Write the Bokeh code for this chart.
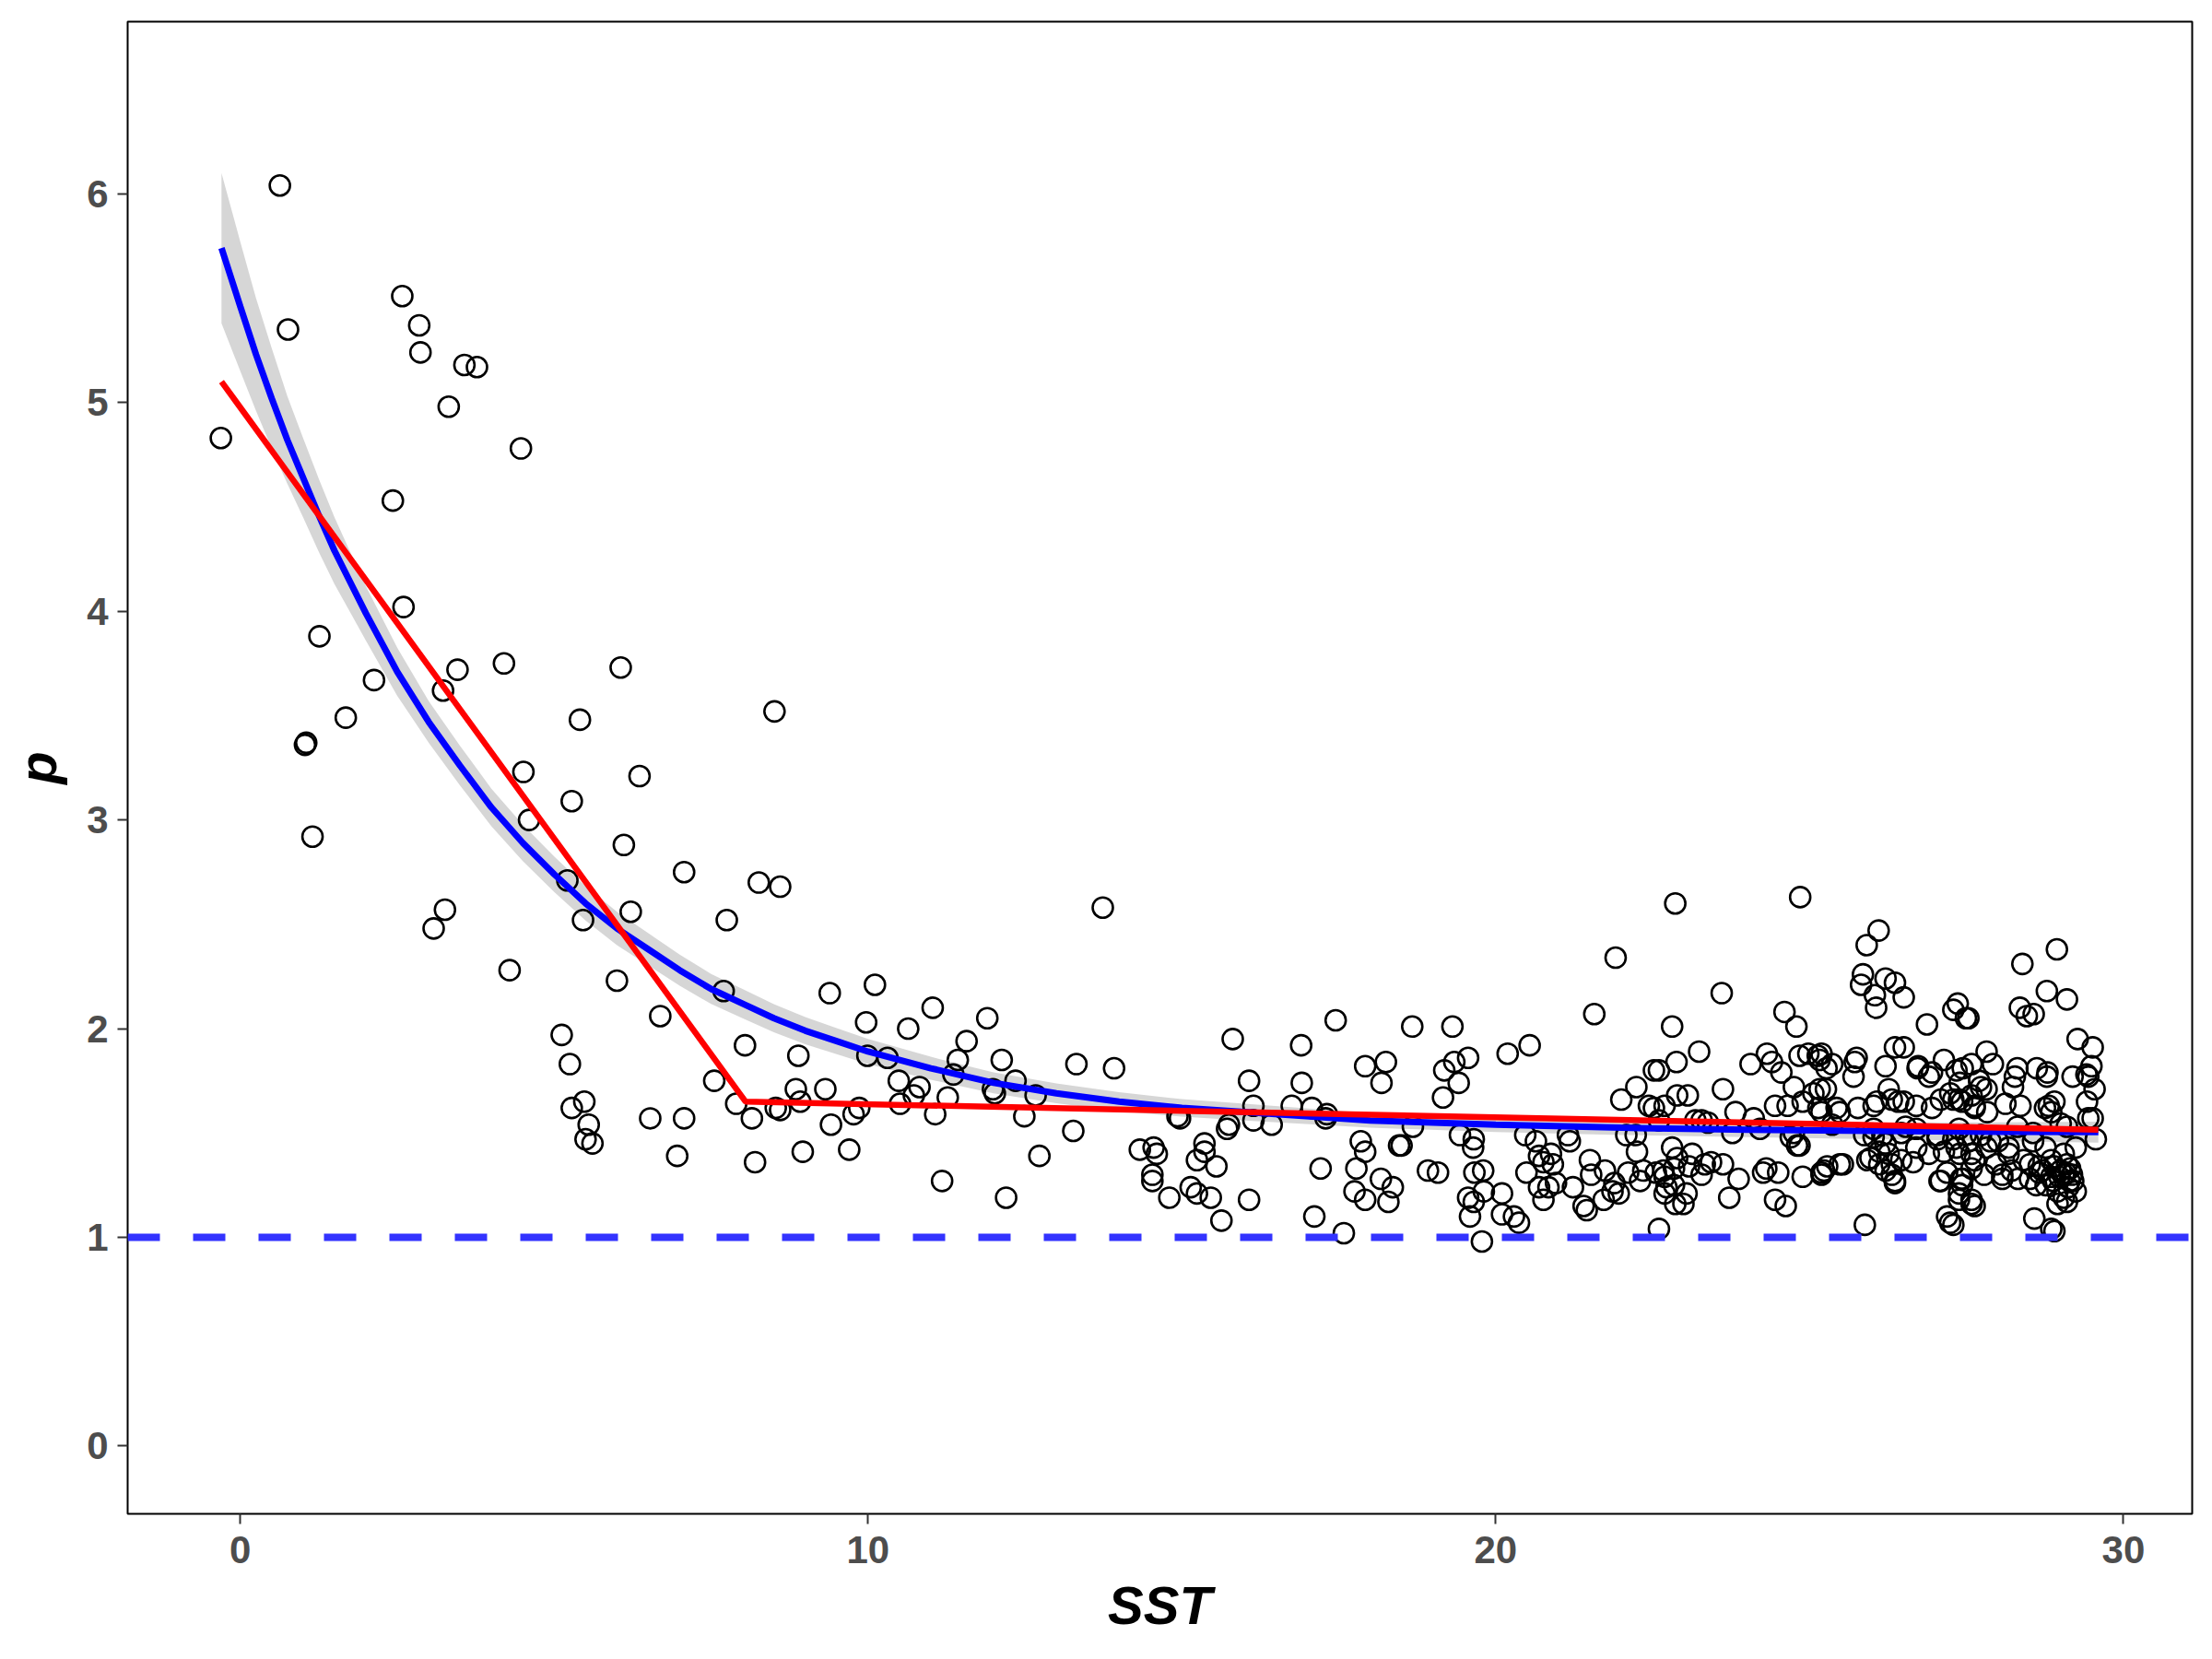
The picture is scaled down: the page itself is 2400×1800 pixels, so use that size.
from bokeh.plotting import figure
from bokeh.models import Range1d, FixedTicker, Span
from bokeh.embed import file_html
from bokeh.resources import INLINE

# ---------------- data ----------------
sst = [
    -0.31, 0.63, 0.76, 1.03, 1.05, 1.15, 1.26, 1.68, 2.13, 2.43, 2.58, 2.60, 2.85, 2.87, 3.08, 3.23,
    3.26, 3.32, 3.46, 3.57, 3.77, 4.20, 4.29, 4.47, 4.51, 4.60, 5.12, 5.21, 5.28, 5.25, 5.28, 5.41,
    5.46, 5.48, 5.55, 5.50, 5.61, 6.00, 6.06, 6.11, 6.22, 6.36, 6.53, 6.69, 6.96, 7.07, 7.07, 7.55,
    7.75, 7.70, 7.90, 8.04, 8.15, 8.20, 8.26, 8.51, 8.53, 8.60, 8.60, 8.85, 8.89, 8.92, 8.96, 9.32,
    9.39, 9.41, 9.70, 9.77, 9.86, 9.97, 9.99, 10.11, 10.31, 10.49, 10.51, 10.64, 10.73, 10.82, 11.03, 11.07,
    11.18, 11.27, 11.36, 11.43, 11.57, 11.90, 11.99, 12.02, 12.13, 12.20, 12.35, 12.49, 12.67, 12.73, 13.27, 13.32,
    13.74, 13.92,
    14.33, 14.55, 14.60, 14.53, 14.53, 14.80, 14.93, 14.97, 15.14, 15.24, 15.24, 15.36, 15.36, 15.46, 15.55, 15.63,
    15.72, 15.75, 15.81, 16.07, 16.07, 16.14, 16.14, 16.43, 16.75, 16.90, 16.91, 17.07, 17.11, 17.21, 17.29, 17.31,
    17.45, 17.58, 17.75, 17.78, 17.85, 17.92, 17.92, 17.92, 18.17, 18.18, 18.25, 18.29, 18.36, 18.46, 18.50, 18.67,
    18.68, 18.92,
    19.08, 19.16, 19.18, 19.31, 19.34, 19.41, 19.43, 19.56, 19.56, 19.59, 19.64, 19.65, 19.65, 19.66, 19.78, 19.80,
    19.81, 20.10, 20.10, 20.19, 20.29, 20.37, 20.47, 20.49, 20.54, 20.64, 20.69, 20.69, 20.76, 20.76, 20.84, 20.88,
    20.91, 20.96, 21.15, 21.18, 21.23, 21.40, 21.45, 21.50, 21.52, 21.57, 21.72, 21.74, 21.86, 21.89, 21.91, 21.96,
    22.00, 22.08, 22.11, 22.23, 22.24, 22.25, 22.30, 22.35, 22.44, 22.52, 22.52, 22.55, 22.60, 22.60, 22.69, 22.72,
    22.81, 22.81, 22.84, 22.86, 22.86, 22.88, 22.89,
    24.85, 26.10, 25.91, 23.60, 25.85, 26.21, 25.82, 26.04, 26.06, 24.60, 24.79, 23.24, 24.06, 24.32, 24.40, 24.55,
    24.84, 24.98, 25.13, 25.27, 25.72, 25.70, 26.21, 26.36, 23.06, 23.62, 24.75, 25.06, 25.26, 26.26, 24.45, 24.65,
    24.89, 25.14, 25.48, 25.77, 26.02, 23.82, 24.11, 23.28, 22.69, 23.77, 24.21, 24.70, 24.84, 25.36, 25.87, 26.02,
    26.21, 23.13, 22.89, 23.43, 23.62, 22.67, 23.28, 23.87, 24.31, 24.50, 24.89, 25.23, 25.53, 25.92, 26.11, 26.31,
    26.36, 23.04, 22.99, 23.72, 24.45, 24.62, 25.88,
    26.36, 26.50, 26.87, 27.36, 27.29, 27.53, 28.39, 28.94, 28.78, 29.10, 28.35, 28.57, 26.50, 29.27, 29.51, 26.72,
    27.14, 26.90, 27.58, 27.82, 27.92, 27.70, 28.31, 28.62, 28.79, 28.24, 29.19, 29.41, 29.54, 29.49, 26.31, 26.50,
    26.70, 27.09, 27.43, 27.24, 27.58, 27.82, 28.12, 28.36, 28.75, 28.90, 29.44, 26.16, 26.53, 27.04, 27.38, 27.73,
    28.00, 28.31, 28.56, 29.10, 29.56, 26.26, 26.46, 26.70, 26.90, 27.14, 27.34, 27.58, 27.82, 28.17, 28.41, 28.65,
    28.85, 29.05, 29.24, 26.21, 26.65, 27.07, 27.19, 27.41, 27.58, 27.78, 28.07, 28.22, 28.51, 28.71, 28.85, 29.00,
    29.14, 29.24, 29.05, 28.95, 29.10, 27.38, 27.58, 27.24, 27.29, 28.58, 28.90,
    28.46, 27.49, 27.44, 28.27, 28.78, 29.44, 27.73, 27.39, 27.29, 27.63, 27.83, 28.81, 28.85, 29.42, 29.51, 29.00,
    27.49, 27.88, 28.17, 28.56, 28.76, 27.39, 27.63, 27.97, 28.51, 28.66, 28.90, 29.10, 29.05, 29.20, 27.44, 28.07,
    28.32, 28.61, 28.76, 28.95, 27.58, 28.85, 29.08, 29.15, 28.98, 29.12, 28.88, 29.18,
    23.18, 23.38, 23.08, 23.33, 24.26, 25.19, 22.69, 22.84, 22.60, 25.16, 24.80, 24.75,
    25.19, 25.36, 25.75, 26.73, 26.95, 27.34, 25.16, 25.19, 25.43, 26.07, 26.41, 26.95, 27.38, 27.63,
    26.02, 26.46, 26.70, 27.04, 27.29, 27.53, 25.97, 26.11, 26.31, 25.28, 25.48, 25.19, 26.36, 27.09,
    27.43, 27.38, 27.63, 27.19,
]
p_vals = [
    4.83, 6.04, 5.35, 3.36, 3.37, 2.92, 3.88, 3.49, 3.67, 4.53, 5.51, 4.02, 5.37, 5.24, 2.48, 3.62,
    2.57, 4.98, 3.72, 5.18, 5.17, 3.75, 2.28, 4.78, 3.23, 3.00, 1.97, 2.71, 3.09, 1.83, 1.62, 3.48,
    2.52, 1.65, 1.54, 1.47, 1.45, 2.23, 3.73, 2.88, 2.56, 3.21, 1.57, 2.06, 1.39, 2.75, 1.57, 1.75,
    2.52, 2.18, 1.64, 1.92, 1.57, 1.36, 2.70, 3.52, 1.62, 2.68, 1.61, 1.71, 1.87, 1.65, 1.41, 1.71,
    2.17, 1.54, 1.42, 1.59, 1.62, 2.03, 1.87, 2.21, 1.86, 1.75, 1.64, 2.00, 1.68, 1.72, 2.10, 1.59,
    1.27, 1.67, 1.78, 1.85, 1.94, 2.05, 1.71, 1.69, 1.85, 1.19, 1.75, 1.58, 1.68, 1.39, 1.51, 1.83,
    2.58, 1.81,
    1.42, 1.43, 1.40, 1.30, 1.27, 1.19, 1.58, 1.57, 1.24, 1.21, 1.37, 1.45, 1.41, 1.19, 1.34, 1.08,
    1.52, 1.54, 1.95, 1.75, 1.18, 1.63, 1.56, 1.54, 1.63, 1.92, 1.74, 1.62, 1.10, 1.33, 1.57, 1.59,
    2.04, 1.02, 1.22, 1.33, 1.46, 1.41, 1.82, 1.18, 1.28, 1.74, 1.84, 1.17, 1.24, 1.44, 1.44, 2.01,
    1.53, 1.32,
    1.31, 1.67, 1.80, 2.01, 1.84, 1.74, 1.49, 1.86, 1.19, 1.10, 1.43, 1.47, 1.17, 1.31, 0.98, 1.32,
    1.22, 1.21, 1.11, 1.88, 1.10, 1.07, 1.49, 1.31, 1.92, 1.46, 1.39, 1.24, 1.36, 1.18, 1.24, 1.40,
    1.35, 1.26, 1.49, 1.46, 1.24, 1.15, 1.13, 1.37, 1.30, 2.07, 1.18, 1.32, 1.22, 1.26, 2.34, 1.21,
    1.66, 1.49, 1.31, 1.49, 1.72, 1.41, 1.27, 1.32, 1.63, 1.80, 1.62, 1.31, 1.56, 1.04, 1.29, 1.24,
    2.01, 1.43, 1.33, 1.16, 2.60, 1.84, 1.68,
    2.63, 2.47, 2.40, 2.17, 2.26, 2.24, 2.21, 2.16, 2.10, 2.08, 2.01, 1.89, 1.83, 1.88, 1.84, 1.79,
    1.87, 1.88, 1.87, 1.81, 1.84, 1.77, 1.82, 1.91, 1.68, 1.71, 1.72, 1.69, 1.71, 1.71, 1.63, 1.63,
    1.65, 1.62, 1.60, 1.62, 1.63, 1.60, 1.57, 1.56, 1.63, 1.50, 1.52, 1.48, 1.44, 1.54, 1.49, 1.52,
    1.45, 1.40, 1.38, 1.36, 1.35, 1.32, 1.30, 1.28, 1.33, 1.31, 1.29, 1.32, 1.35, 1.37, 1.35, 1.30,
    1.26, 1.21, 1.16, 1.19, 1.18, 1.15, 1.06,
    2.22, 2.15, 2.02, 2.12, 2.09, 2.05, 2.31, 2.38, 2.18, 2.14, 2.10, 2.07, 1.91, 1.95, 1.91, 1.81,
    1.85, 1.77, 1.83, 1.89, 1.83, 1.75, 1.81, 1.81, 1.79, 1.72, 1.77, 1.78, 1.71, 1.82, 1.66, 1.65,
    1.63, 1.66, 1.65, 1.69, 1.68, 1.71, 1.64, 1.63, 1.62, 1.65, 1.57, 1.49, 1.53, 1.49, 1.52, 1.49,
    1.46, 1.53, 1.50, 1.53, 1.47, 1.40, 1.37, 1.43, 1.40, 1.41, 1.43, 1.40, 1.43, 1.40, 1.37, 1.34,
    1.37, 1.40, 1.43, 1.32, 1.36, 1.27, 1.31, 1.28, 1.33, 1.30, 1.30, 1.32, 1.28, 1.32, 1.29, 1.32,
    1.27, 1.22, 1.19, 1.16, 1.17, 1.21, 1.16, 1.07, 1.06, 1.09, 1.03,
    2.06, 2.05, 1.81, 1.77, 1.77, 1.77, 1.72, 1.74, 1.66, 1.63, 1.60, 1.63, 1.60, 1.65, 1.57, 1.545,
    1.49, 1.46, 1.43, 1.46, 1.43, 1.40, 1.37, 1.35, 1.35, 1.31, 1.34, 1.35, 1.30, 1.27, 1.28, 1.28,
    1.28, 1.25, 1.25, 1.22, 1.18, 1.04, 1.31, 1.33, 1.29, 1.24, 1.27, 1.30,
    1.56, 1.55, 1.34, 1.35, 1.31, 1.31, 1.21, 1.25, 1.80, 1.85, 1.44, 1.50,
    1.88, 1.83, 1.86, 1.82, 1.79, 1.80, 1.71, 1.60, 1.62, 1.65, 1.65, 1.62, 1.66, 1.62,
    1.48, 1.50, 1.52, 1.47, 1.47, 1.46, 1.38, 1.41, 1.35, 1.34, 1.35, 1.30, 1.27, 1.27,
    1.25, 1.18, 1.15, 1.10,
]

# smooth fit (blue) and the half-width of its grey confidence band, read at these SST values
fit_x = [-0.3, 0.0, 0.25, 0.5, 0.75, 1.0, 1.25, 1.5, 1.75, 2.0, 2.5, 3.0, 3.5, 4.0, 4.5, 5.0,
         5.5, 6.0, 6.5, 7.0, 7.5, 8.0, 8.5, 9.0, 9.5, 10.0, 11.0, 12.0, 13.0, 14.0, 15.0, 16.0,
         18.0, 20.0, 22.0, 24.0, 26.0, 28.0, 29.6]
fit_y = [5.74, 5.46, 5.23, 5.02, 4.82, 4.64, 4.46, 4.29, 4.14, 3.99, 3.71, 3.47, 3.26, 3.06, 2.89, 2.74,
         2.60, 2.48, 2.38, 2.28, 2.19, 2.12, 2.05, 1.99, 1.94, 1.89, 1.81, 1.74, 1.69, 1.65, 1.62, 1.60,
         1.56, 1.54, 1.525, 1.515, 1.51, 1.506, 1.504]
fit_half = [0.36, 0.31, 0.27, 0.24, 0.21, 0.19, 0.175, 0.16, 0.145, 0.13, 0.115, 0.10, 0.095, 0.09, 0.087, 0.085,
            0.082, 0.08, 0.077, 0.075, 0.072, 0.07, 0.067, 0.065, 0.062, 0.06, 0.055, 0.05, 0.047, 0.045, 0.042, 0.04,
            0.035, 0.035, 0.035, 0.035, 0.04, 0.045, 0.05]
fit_lo = [y - h for y, h in zip(fit_y, fit_half)]
fit_hi = [y + h for y, h in zip(fit_y, fit_half)]

# piecewise (segmented) regression (red)
seg_x = [-0.3, 8.05, 29.6]
seg_y = [5.10, 1.65, 1.515]

ref_level = 1.0
x_ticks = [0, 10, 20, 30]
y_ticks = [0, 1, 2, 3, 4, 5, 6]

# ---------------- figure ----------------
p = figure(width=2384, height=1784, output_backend="svg", toolbar_location=None,
           x_range=Range1d(-1.795, 31.095), y_range=Range1d(-0.325, 6.825),
           min_border_left=138, min_border_right=6, min_border_top=23, min_border_bottom=142)

p.background_fill_color = "white"
p.border_fill_color = "white"
p.outline_line_color = "black"
p.outline_line_width = 2
p.xgrid.grid_line_color = None
p.ygrid.grid_line_color = None

p.varea(x=fit_x, y1=fit_lo, y2=fit_hi, fill_color="#999999", fill_alpha=0.4)

p.scatter(sst, p_vals, marker="circle", size=22, fill_color=None,
          line_color="black", line_width=2.6)

p.line(fit_x, fit_y, line_color="#0000FF", line_width=7)
p.line(seg_x, seg_y, line_color="#FF0000", line_width=6.5)

p.add_layout(Span(location=ref_level, dimension="width", line_color="#3333FF",
                  line_width=8, line_dash="35 36", line_alpha=1.0))

for ax in (p.xaxis[0], p.yaxis[0]):
    ax.axis_line_color = None
    ax.major_tick_line_color = "#333333"
    ax.major_tick_line_width = 2
    ax.major_tick_out = 11
    ax.major_tick_in = 0
    ax.minor_tick_line_color = None
    ax.major_label_text_font = "Liberation Sans"
    ax.major_label_text_font_style = "bold"
    ax.major_label_text_font_size = "42px"
    ax.major_label_text_color = "#4D4D4D"
    ax.axis_label_text_font = "Liberation Sans"
    ax.axis_label_text_font_style = "bold italic"
    ax.axis_label_text_font_size = "58px"
    ax.axis_label_text_color = "black"

p.xaxis[0].ticker = FixedTicker(ticks=x_ticks)
p.yaxis[0].ticker = FixedTicker(ticks=y_ticks)
p.xaxis[0].axis_label = "SST"
p.yaxis[0].axis_label = "p"
p.xaxis[0].major_label_standoff = 13
p.yaxis[0].major_label_standoff = 10
p.xaxis[0].axis_label_standoff = 10
p.yaxis[0].axis_label_standoff = 18

open("out.html", "w").write(file_html(p, INLINE))
